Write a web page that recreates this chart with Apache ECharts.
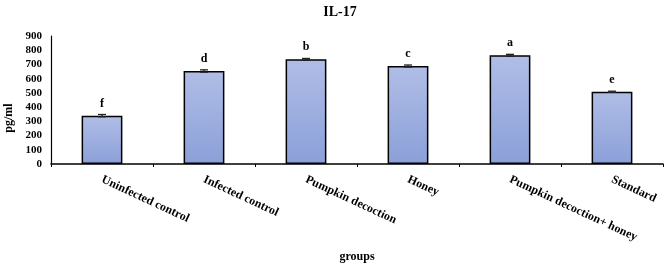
<!DOCTYPE html>
<html>
<head>
<meta charset="utf-8">
<script src="https://cdn.jsdelivr.net/npm/echarts@6/dist/echarts.min.js"></script>
<style>
  html, body { margin: 0; padding: 0; background: #fff; }
  #main { width: 669px; height: 266px; }
</style>
</head>
<body>
<div id="main"></div>
<script>
var groups = ['Uninfected control', 'Infected control', 'Pumpkin decoction', 'Honey', 'Pumpkin decoction+ honey', 'Standard'];
var il17 = [340, 654, 736, 689, 764, 508];
var errs = [8, 8, 6, 7, 7, 4];
var letters = ['f', 'd', 'b', 'c', 'a', 'e'];

var serif = '"Liberation Serif", "Times New Roman", serif';

var chart = echarts.init(document.getElementById('main'), null, { renderer: 'canvas' });

var option = {
  animation: false,
  title: {
    text: 'IL-17',
    left: 335,
    top: 0,
    textAlign: 'center',
    textStyle: { fontFamily: serif, fontWeight: 'bold', fontSize: 14, color: '#000' }
  },
  grid: { left: 51, right: 6, top: 36, bottom: 102, containLabel: false, outerBoundsMode: 'none' },
  xAxis: {
    type: 'category',
    data: groups,
    name: 'groups',
    nameLocation: 'middle',
    nameGap: 87,
    nameTextStyle: { fontFamily: serif, fontWeight: 'bold', fontSize: 12, color: '#000' },
    axisLine: { lineStyle: { color: '#000', width: 1.5 } },
    axisTick: { show: true, length: 3, lineStyle: { color: '#000' } },
    axisLabel: {
      rotate: -25,
      margin: 15,
      interval: 0,
      fontFamily: serif,
      fontWeight: 'bold',
      fontSize: 12,
      color: '#000'
    }
  },
  yAxis: {
    type: 'value',
    min: 0,
    max: 900,
    interval: 100,
    name: 'pg/ml',
    nameLocation: 'middle',
    nameGap: 32,
    nameTextStyle: { fontFamily: serif, fontWeight: 'bold', fontSize: 12, color: '#000', padding: [0, 36, 0, 0] },
    axisLine: { show: true, lineStyle: { color: '#000', width: 1.2 } },
    axisTick: { show: false },
    splitLine: { show: false },
    axisLabel: { fontFamily: serif, fontWeight: 'bold', fontSize: 11, color: '#000', margin: 9 }
  },
  series: [
    {
      type: 'bar',
      data: il17,
      barWidth: '40%',
      itemStyle: {
        color: new echarts.graphic.LinearGradient(0, 0, 0, 1, [
          { offset: 0, color: '#b0bde6' },
          { offset: 1, color: '#8ba0d9' }
        ]),
        borderColor: '#000',
        borderWidth: 1.5
      },
      label: {
        show: true,
        position: 'top',
        distance: 6,
        formatter: function (p) { return letters[p.dataIndex]; },
        fontFamily: serif,
        fontWeight: 'bold',
        fontSize: 12,
        color: '#000'
      }
    },
    {
      type: 'custom',
      data: il17.map(function (v, i) { return [i, v - errs[i], v + errs[i]]; }),
      renderItem: function (params, api) {
        var lo = api.coord([api.value(0), api.value(1)]);
        var hi = api.coord([api.value(0), api.value(2)]);
        var hw = 4;
        var st = { stroke: '#222', lineWidth: 1.3 };
        return {
          type: 'group',
          children: [
            { type: 'line', shape: { x1: lo[0], y1: lo[1], x2: hi[0], y2: hi[1] }, style: st },
            { type: 'line', shape: { x1: hi[0] - hw, y1: hi[1], x2: hi[0] + hw, y2: hi[1] }, style: st },
            { type: 'line', shape: { x1: lo[0] - hw, y1: lo[1], x2: lo[0] + hw, y2: lo[1] }, style: st }
          ]
        };
      },
      z: 5
    }
  ]
};

chart.setOption(option);
</script>
</body>
</html>
